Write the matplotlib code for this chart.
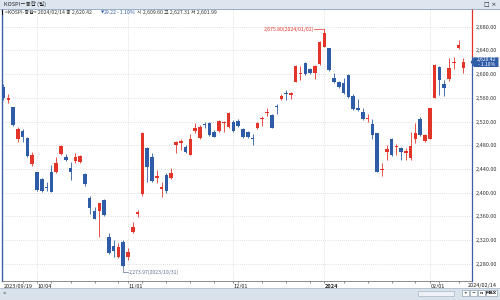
import matplotlib
matplotlib.use("Agg")
import matplotlib.pyplot as plt
from matplotlib.patches import Rectangle, Polygon
from matplotlib.lines import Line2D
import pandas as pd

plt.rcParams["font.family"] = ["Noto Sans CJK KR", "DejaVu Sans"]

# KRX holidays inside the window
holidays = ["2023-09-28", "2023-09-29", "2023-10-02", "2023-10-03", "2023-10-09",
            "2023-12-25", "2023-12-29", "2024-01-01", "2024-02-09", "2024-02-12"]
dates = [d for d in pd.bdate_range("2023-09-19", "2024-02-14")
         if d.strftime("%Y-%m-%d") not in holidays]

opens = [2578.8, 2556.3, 2543.9, 2490.5, 2504.0, 2492.7, 2447.7, 2434.2, 2422.4, 2409.0,
         2435.3, 2435.3, 2464.6, 2460.1, 2441.0, 2453.3, 2451.1, 2430.8, 2391.4, 2368.9,
         2369.5, 2387.5, 2324.5, 2309.9, 2290.8, 2317.2, 2290.8, 2332.9, 2363.9, 2397.1,
         2474.7, 2459.5, 2424.1, 2406.6, 2429.7, 2424.1, 2480.3, 2483.1, 2476.4, 2463.5,
         2504.0, 2491.6, 2515.2, 2518.0, 2501.7, 2504.5, 2518.0, 2511.3, 2519.7, 2521.4,
         2506.8, 2502.8, 2492.7, 2508.5, 2523.7, 2533.8, 2531.0, 2546.7, 2557.4, 2567.6,
         2565.3, 2586.1, 2599.6, 2618.2, 2608.6, 2601.3, 2616.5, 2646.3, 2643.5, 2592.8,
         2586.1, 2585.5, 2598.5, 2563.6, 2542.8, 2535.5, 2524.2, 2515.2, 2500.0, 2438.1,
         2467.9, 2490.5, 2477.5, 2475.8, 2466.3, 2457.8, 2489.9, 2523.7, 2487.6, 2490.5,
         2559.1, 2612.5, 2583.3, 2591.2, 2618.2, 2643.5, 2609.60]
highs = [2582.7, 2565.8, 2545.0, 2511.3, 2507.3, 2494.4, 2469.1, 2435.0, 2424.0, 2418.5,
         2446.6, 2460.6, 2480.3, 2464.6, 2452.2, 2466.3, 2463.5, 2432.5, 2394.3, 2376.3,
         2383.0, 2388.6, 2331.2, 2320.0, 2315.5, 2320.0, 2306.0, 2350.9, 2370.6, 2502.8,
         2476.4, 2467.4, 2438.1, 2418.5, 2432.5, 2440.9, 2487.7, 2489.9, 2480.3, 2498.9,
         2518.0, 2514.1, 2519.7, 2519.7, 2505.7, 2522.5, 2521.4, 2536.6, 2522.5, 2523.6,
         2508.5, 2504.5, 2498.9, 2519.7, 2529.3, 2542.2, 2532.7, 2549.0, 2565.8, 2573.2,
         2570.4, 2615.4, 2613.7, 2621.0, 2610.8, 2615.4, 2656.4, 2675.80, 2644.6, 2601.3,
         2588.9, 2594.0, 2599.6, 2566.4, 2557.4, 2543.3, 2532.1, 2523.6, 2501.2, 2449.4,
         2480.3, 2491.6, 2481.4, 2477.5, 2474.7, 2502.0, 2516.9, 2528.1, 2498.3, 2543.3,
         2616.5, 2613.7, 2590.0, 2626.6, 2628.3, 2657.5, 2627.31]
lows = [2556.3, 2551.8, 2513.0, 2486.0, 2486.0, 2460.6, 2444.9, 2403.0, 2401.0, 2403.3,
        2400.5, 2432.5, 2463.5, 2453.3, 2421.3, 2449.4, 2449.4, 2411.1, 2363.3, 2354.9,
        2325.6, 2361.1, 2296.4, 2291.9, 2289.0, 2273.97, 2286.2, 2331.2, 2359.4, 2394.3,
        2418.5, 2418.5, 2415.6, 2393.1, 2398.8, 2422.4, 2467.4, 2471.9, 2467.4, 2463.5,
        2501.2, 2489.9, 2508.5, 2495.5, 2493.3, 2502.8, 2502.8, 2509.6, 2502.8, 2511.3,
        2491.6, 2492.7, 2480.3, 2506.8, 2513.0, 2529.3, 2508.5, 2532.7, 2556.3, 2556.3,
        2557.4, 2586.1, 2590.0, 2598.5, 2599.6, 2591.2, 2615.4, 2645.2, 2605.8, 2585.5,
        2576.0, 2566.4, 2559.1, 2539.4, 2538.3, 2522.5, 2518.6, 2490.5, 2434.2, 2428.0,
        2455.0, 2461.8, 2463.4, 2455.0, 2455.0, 2455.0, 2483.1, 2495.5, 2485.9, 2490.5,
        2559.1, 2564.7, 2563.0, 2588.9, 2608.0, 2641.8, 2601.99]
closes = [2559.1, 2559.1, 2514.1, 2507.3, 2494.4, 2462.3, 2463.5, 2404.4, 2402.7, 2408.3,
          2401.6, 2449.4, 2478.6, 2455.0, 2435.3, 2460.6, 2461.8, 2413.9, 2373.4, 2356.0,
          2381.9, 2362.2, 2297.5, 2301.4, 2308.8, 2276.7, 2300.3, 2342.5, 2367.8, 2501.2,
          2442.6, 2420.1, 2427.5, 2410.0, 2402.7, 2432.5, 2486.0, 2487.7, 2469.1, 2490.5,
          2509.6, 2511.3, 2513.5, 2497.2, 2494.4, 2520.8, 2519.7, 2534.9, 2504.0, 2513.0,
          2493.3, 2494.4, 2490.5, 2516.9, 2526.5, 2535.5, 2509.6, 2543.9, 2563.0, 2566.4,
          2568.1, 2614.2, 2601.3, 2599.6, 2601.3, 2613.7, 2654.7, 2668.8, 2606.9, 2587.2,
          2577.7, 2567.5, 2560.8, 2541.1, 2539.4, 2524.2, 2525.9, 2497.2, 2435.3, 2439.8,
          2473.6, 2463.4, 2479.2, 2469.1, 2470.2, 2478.6, 2500.0, 2497.2, 2496.6, 2542.2,
          2615.3, 2590.0, 2576.0, 2609.7, 2619.9, 2649.64, 2620.42]

price_ticks = [2280, 2320, 2360, 2400, 2440, 2480, 2520, 2560, 2600, 2640, 2680]
label_dates = ["2023-10-04", "2023-11-01", "2023-12-01", "2024-01-02", "2024-02-01"]
label_texts = ["10/04", "11/01", "12/01", "2024", "02/01"]

RED = "#e3342a"
BLUE = "#2f5ca6"
W, H = 500, 300


def px(x, y):
    return x / W, 1 - y / H


fig = plt.figure(figsize=(5, 3), dpi=100)
fig.patch.set_facecolor("white")

# chart area
ax = fig.add_axes([2 / W, 19 / H, 470 / W, 272 / H])
ax.set_xlim(-0.31, 97.8)
ax.set_ylim(2250.8, 2709.9)

xs = list(range(len(dates)))
for i in xs:
    o, h, l, c = opens[i], highs[i], lows[i], closes[i]
    col = RED if c >= o else BLUE
    ax.vlines(i, l, h, color=col, linewidth=0.6, zorder=2)
    ax.bar(i, max(abs(c - o), 1.3), bottom=min(o, c), width=0.74, color=col,
           linewidth=0, zorder=3)

# price axis on the right
ax.yaxis.tick_right()
ax.set_yticks(price_ticks)
ax.set_yticklabels([f"{v:,.2f}" for v in price_ticks], fontsize=4.0, color="#333333")
ax.tick_params(axis="y", length=0, pad=2.5)

# date gridlines and weekly minor ticks
pos = {d.strftime("%Y-%m-%d"): k for k, d in enumerate(dates)}
major = [pos[d] for d in label_dates]
ax.set_xticks(major)
ax.set_xticklabels([])
mondays = [k for k, d in enumerate(dates) if k > 0 and d.weekday() < dates[k - 1].weekday()]
ax.set_xticks(mondays, minor=True)
ax.tick_params(axis="x", which="both", length=1.5, width=0.5, color="#666666")
ax.grid(True, which="major", linestyle=(0, (1, 2)), linewidth=0.5, color="#c4c4c4")

for s in ["top", "right"]:
    ax.spines[s].set_visible(False)
ax.spines["left"].set_color("#3a5fa8")
ax.spines["left"].set_linewidth(1.0)
ax.spines["bottom"].set_color("#777777")
ax.spines["bottom"].set_linewidth(0.6)

# bottom date labels
for k, t in zip(major, label_texts):
    ax.text(k + 0.1, -0.012, t, transform=ax.get_xaxis_transform(), ha="left", va="top",
            fontsize=4.0, color="#222222", fontweight="bold" if t == "2024" else "normal")
ax.text(0.0, -0.012, dates[0].strftime("%Y/%m/%d"), transform=ax.get_xaxis_transform(),
        ha="left", va="top", fontsize=4.0, color="#222222")
fig.text(*px(497, 282.5), dates[-1].strftime("%Y/%m/%d"), ha="right", va="top",
         fontsize=4.0, color="#222222")

# high / low marks
i_hi = highs.index(max(highs))
i_lo = lows.index(min(lows))
ax.plot([i_hi - 2.1, i_hi], [highs[i_hi], highs[i_hi]], color=RED, linewidth=0.5)
ax.text(i_hi - 2.2, highs[i_hi], f"{highs[i_hi]:,.2f}({dates[i_hi].strftime('%Y/%m/%d')})",
        ha="right", va="center", fontsize=3.7, color=RED)
ax.plot([i_lo, i_lo, i_lo + 1.0], [lows[i_lo], lows[i_lo] - 8, lows[i_lo] - 8],
        color="#5f6f95", linewidth=0.5)
ax.text(i_lo + 1.1, lows[i_lo] - 8, f"{lows[i_lo]:,.2f}({dates[i_lo].strftime('%Y/%m/%d')})",
        ha="left", va="center", fontsize=3.7, color="#5f6f95")

# right border: red above current price, blue below
fig.add_artist(Line2D([472 / W] * 2, [1 - 9 / H, 1 - 57 / H], color=RED, linewidth=0.9))
fig.add_artist(Line2D([472 / W] * 2, [1 - 57 / H, 1 - 281 / H], color="#3a5fa8", linewidth=0.9))

# current price tag
chg = closes[-1] - closes[-2]
pct = chg / closes[-2] * 100
tag = [px(470.5, 62), px(474, 57.3), px(498.5, 57.3), px(498.5, 67), px(474, 67)]
fig.add_artist(Polygon(tag, closed=True, facecolor=BLUE, edgecolor="none"))
fig.text(*px(486.5, 59.8), f"{closes[-1]:,.2f}", ha="center", va="center", fontsize=3.6, color="white")
fig.text(*px(486.5, 64.6), f"- {abs(pct):.2f}%", ha="center", va="center", fontsize=3.6, color="white")

# window title bar
fig.add_artist(Rectangle((0, 1 - 8.5 / H), 1, 8.5 / H, facecolor="#dde5ef", edgecolor="none"))
fig.add_artist(Line2D([0, 1], [1 - 8.5 / H] * 2, color="#8aa0bd", linewidth=0.6))
fig.text(*px(4, 4.3), "KOSPI－종합 (일)", ha="left", va="center", fontsize=4.0, color="#222222")
fig.text(*px(484, 4.3), "□ ×", ha="left", va="center", fontsize=4.2, color="#222222",
         family=["DejaVu Sans"])

# header line
fig.add_artist(Rectangle((px(2, 15)), 1.3 / W, 4.5 / H, facecolor="#111111", edgecolor="none"))
fig.text(*px(5, 12.7), f"<KOSPI-종합> {dates[-1].strftime('%Y/%m/%d')} 종 {closes[-1]:,.2f}",
         ha="left", va="center", fontsize=3.7, color="#333333")
fig.text(*px(100.5, 12.7), "▼", ha="left", va="center", fontsize=3.0, color=BLUE,
         family=["DejaVu Sans"])
fig.text(*px(104, 12.7), f"{abs(chg):.2f}", ha="left", va="center", fontsize=3.7, color=BLUE)
fig.text(*px(117, 12.7), f"- {abs(pct):.2f}%", ha="left", va="center", fontsize=3.7, color=BLUE)
fig.text(*px(137, 12.7), f"시 {opens[-1]:,.2f} 고 {highs[-1]:,.2f} 저 {lows[-1]:,.2f}",
         ha="left", va="center", fontsize=3.7, color="#333333")

# scroll bar strip
fig.add_artist(Rectangle((0, 0), 1, 12 / H, facecolor="#d9e1eb", edgecolor="none"))
fig.add_artist(Line2D([0, 1], [12 / H] * 2, color="#a9b7c9", linewidth=0.5))
fig.text(*px(3, 293), "<", ha="left", va="center", fontsize=4, color="#333333")
fig.add_artist(Rectangle(px(418, 295.5), 36 / W, 5 / H, facecolor="#eef2f6", edgecolor="#9aa9bc", linewidth=0.4))
for bx, lab in zip([462, 470, 478, 486], ["+", "−", "n", "MAX"]):
    bw = 11 if lab == "MAX" else 6.5
    fig.add_artist(Rectangle(px(bx, 296), bw / W, 6 / H, facecolor="white",
                             edgecolor="#7f8fa6", linewidth=0.4))
    fig.text(*px(bx + bw / 2, 293), lab, ha="center", va="center", fontsize=3.2,
             color="#222222", fontweight="bold", family=["DejaVu Sans"])

fig.savefig("out.png", dpi=100)
